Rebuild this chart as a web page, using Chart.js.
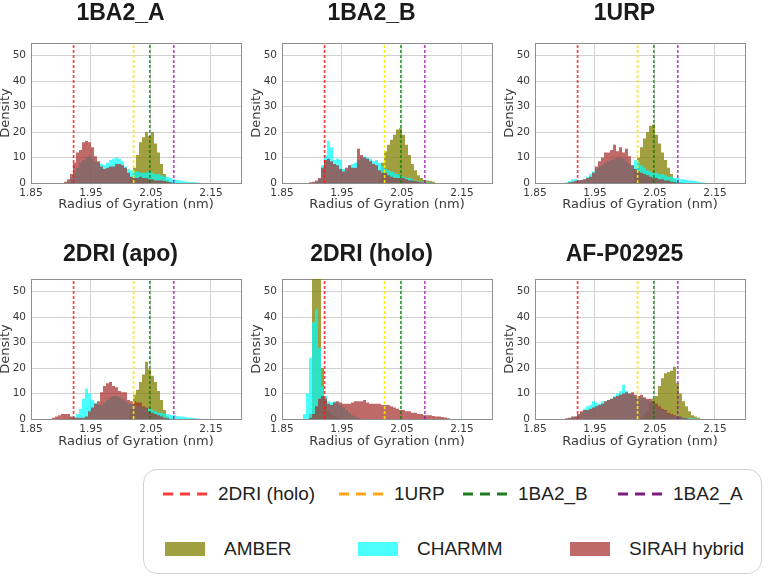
<!DOCTYPE html>
<html>
<head>
<meta charset="utf-8">
<script src="https://cdn.jsdelivr.net/npm/chart.js@4.4.3/dist/chart.umd.min.js"></script>
<style>
  html, body { margin: 0; padding: 0; background: #fff; }
  body { position: relative; width: 768px; height: 576px; overflow: hidden; }
  canvas { position: absolute; }
  .legend {
    position: absolute; left: 143px; top: 469px; width: 619px; height: 105px;
    box-sizing: border-box; border: 1.5px solid #d2d2d2; border-radius: 14px;
    font: 19px 'Liberation Sans', Arial, sans-serif; color: #222;
  }
  .item { position: absolute; display: flex; align-items: center; height: 24px; white-space: nowrap; }
  .item svg { margin-right: 11px; }
  .patch { width: 40px; height: 14px; margin-right: 19px; }
</style>
</head>
<body>
<div class="legend" id="legend"></div>
<script>
// bin edges of the Rg histograms (nm), 0.005 nm wide
const binEdges = [1.885, 1.890, 1.895, 1.900, 1.905, 1.910, 1.915, 1.920, 1.925, 1.930,
  1.935, 1.940, 1.945, 1.950, 1.955, 1.960, 1.965, 1.970, 1.975, 1.980,
  1.985, 1.990, 1.995, 2.000, 2.005, 2.010, 2.015, 2.020, 2.025, 2.030,
  2.035, 2.040, 2.045, 2.050, 2.055, 2.060, 2.065, 2.070, 2.075, 2.080,
  2.085, 2.090, 2.095, 2.100, 2.105, 2.110, 2.115, 2.120, 2.125, 2.130,
  2.135, 2.140];
const xTickValues = [1.85, 1.95, 2.05, 2.15];

const panelTitles = ['1BA2_A', '1BA2_B', '1URP', '2DRI (apo)', '2DRI (holo)', 'AF-P02925'];

// reference structures (dashed lines)
const refNames = ['2DRI (holo)', '1URP', '1BA2_B', '1BA2_A'];
const refRg = [1.921, 2.021, 2.048, 2.088];

// density per bin, one array per force field and system
const amber_1BA2_A = [0,0,0,0,0, 0,0,0,0,0, 0,0,0,0,0, 0,0,0,0,0, 0,0,0,0,0, 0,.5,2,6,11, 16,18,20,18.5,20, 15.5,12,7.5,3.5,1.3, .5,0,0,0,0, 0,0,0,0,0, 0];
const charmm_1BA2_A = [0,0,0,0,0, 0,.5,2,4,6, 8,9,10,10.5,9.5, 8.5,8,7.5,7,8, 9,9.5,10,9.5,8.5, 6.5,5.5,5,4.5,4.5, 4,4,4,4.5,4, 3.5,3.5,3,2.5,2.5, 2,1.5,1.2,1,.8, .6,.5,.4,.3,.2, 0];
const sirah_1BA2_A = [0,0,0,0,0, .5,1.5,3.5,8,12, 13,16,16.5,16,14, 10.5,8.5,6.5,5.5,6, 6.5,6.5,7.5,7.5,7, 6,4,2.5,2,2, 2.5,2,2,1.5,1.5, 1,1,1,.8,.5, .3,0,0,0,0, 0,0,0,0,0, 0];

const amber_1BA2_B = [0,0,0,0,0, 0,0,0,0,0, 0,0,0,0,0, 0,0,0,0,0, 0,0,0,0,0, 0,1,8,12.5,15, 17,19,21,21.5,19, 15,11,7.5,5,3, 2,1.2,1,.8,.5, 0,0,0,0,0, 0];
const charmm_1BA2_B = [0,0,0,0,0, .5,1.5,7,11,16.5, 14,9,9.5,9,5.5, 5,7,7.5,8,9, 10,10.5,10,9.5,8.5, 9,8,6.5,5.5,5, 4.5,4,3.5,3,2.5, 2,2,1.5,1,.8, .5,.3,.2,.1,0, 0,0,0,0,0, 0];
const sirah_1BA2_B = [0,0,0,.3,.5, 1,2,6,9,9.5, 8.5,7.5,7,5.5,4.5, 6,7,6,6,13.5, 11,10,9.5,8.5,7.5, 7,5,4,4,3, 2.5,2,2,2,2, 1.5,1,1,.8,.5, .3,0,0,0,0, 0,0,0,0,0, 0];

const amber_1URP = [0,0,0,0,0, 0,0,0,0,0, 0,0,0,0,0, 0,0,0,0,0, 0,0,0,0,0, 0,.5,5,10,14, 17.5,20,22.5,23,19, 15.5,12,9,6,3.5, 1.5,.8,.3,0,0, 0,0,0,0,0, 0];
const charmm_1URP = [0,0,0,0,.3, .8,1.5,1.5,1.2,1.2, 1.5,2.5,3.5,4.5,5.5, 6.5,7,8,8.5,9, 9.5,10,10,9.5,8.5, 7.5,7,9,8.5,7, 6,5,4.5,4,4, 3.5,3.5,3,2.5,2.5, 2,2,1.5,1.5,1.2, 1,1,.8,.5,.3, .2];
const sirah_1URP = [0,0,0,0,0, .3,.5,.8,1,1.2, 1.5,2,2.5,4,6.5, 8.5,10,12,12,13, 15,12.5,14,12,13.5, 10.5,7,5.5,4.5,4, 3.5,3,2.5,2,2, 1.5,1.5,1,1,.5, .3,0,0,0,0, 0,0,0,0,0, 0];

const amber_2DRI_apo = [0,0,0,0,0, 0,0,0,0,0, 0,0,0,0,0, 0,0,0,0,0, 0,0,0,0,0, 0,.5,4,9.5,11.5, 14.5,17.5,22.5,19.5,17, 14.5,11,7.5,3.5,1, .3,0,0,0,0, 0,0,0,0,0, 0];
const charmm_2DRI_apo = [0,0,0,0,0, 0,.3,.5,1,2, 4,8,12,10,7.5, 6.5,5.5,5.5,6.5,7.5, 8.5,9,9,8.5,8, 7,6,6,5.5,5, 5,4.5,4,4,3.5, 3,2.5,2.5,2,2, 1.5,1.5,1.2,1,1, .8,.6,.5,.3,.2, 0];
const sirah_2DRI_apo = [0,.5,1,1.5,2, 2,2,1,.5,.5, .5,.5,1,3,4.5, 6,7,10.5,13,14, 14.5,13,12.5,11,10.5, 10.5,7.5,7,7,6.5, 6.5,5,4.5,3,2.5, 2,1.5,1,.5,.3, 0,0,0,0,0, 0,0,0,0,0, 0];

const amber_2DRI_holo = [0,0,0,2,56, 60,58,20,8,3, 1.5,1,.5,0,0, 0,0,0,0,0, 0,0,0,0,0, 0,0,0,0,0, 0,0,0,0,0, 0,0,0,0,0, 0,0,0,0,0, 0,0,0,0,0, 0];
const charmm_2DRI_holo = [0,2,10,24,38, 43,28,13,9,7, 6.5,7,6.5,5.5,4.5, 3.5,2.5,1.5,1,.5, 0,0,0,0,0, 0,0,0,0,0, 0,0,0,0,0, 0,0,0,0,0, 0,0,0,0,0, 0,0,0,0,0, 0];
const sirah_2DRI_holo = [0,0,0,.5,2, 5,8,9,8,6, 5.5,6.5,7,6.5,6, 6,6,6.5,7,7, 7,7.5,6.5,6,6, 6,6,5.5,5.5,5.5, 5,4.5,4,3.5,3.5, 3,3,2.5,2.5,2, 2,1.5,1.5,1.5,1.2, 1,1,.8,.6,.3, 0];

const amber_AF_P02925 = [0,0,0,0,0, 0,0,0,0,0, 0,0,0,0,0, 0,0,0,0,0, 0,0,0,0,0, 0,0,0,0,.5, 1.5,3,6.5,8,9, 13,16,18,18.5,19, 20.5,14,10,7,5, 3,1.5,1,.5,0, 0];
const charmm_AF_P02925 = [0,0,0,0,0, .3,.5,1,1.5,2.5, 4,5,5.5,7,6.5, 6,7,7,7.5,8, 9,10,11,13.5,11, 10,9.5,9,9,8.5, 8,7.5,7,6,5, 4,3.5,3,2,1.5, 1.2,1,.8,.5,.5, .3,.3,.2,0,0, 0];
const sirah_AF_P02925 = [0,0,0,0,.3, .5,1,1,2,3, 3.5,3.5,4,4.5,5, 5.5,6,7,7.5,8, 8.5,9,9.5,10,10.5, 10,10.5,9.5,9,9.5, 8.5,8,8,7,6, 5,4,3.5,2.5,2, 1.5,1,1,.5,.3, 0,0,0,0,0, 0];

const seriesNames = ['AMBER', 'CHARMM', 'SIRAH hybrid'];
const amberSets = [amber_1BA2_A, amber_1BA2_B, amber_1URP, amber_2DRI_apo, amber_2DRI_holo, amber_AF_P02925];
const charmmSets = [charmm_1BA2_A, charmm_1BA2_B, charmm_1URP, charmm_2DRI_apo, charmm_2DRI_holo, charmm_AF_P02925];
const sirahSets = [sirah_1BA2_A, sirah_1BA2_B, sirah_1URP, sirah_2DRI_apo, sirah_2DRI_holo, sirah_AF_P02925];

// styling
const seriesColors = ['rgba(128,128,0,0.75)', 'rgba(0,255,255,0.7)', 'rgba(165,42,42,0.7)'];
const refLineColors = ['rgba(255,20,20,0.8)', 'rgba(255,235,0,0.9)', 'rgba(0,130,0,0.75)', 'rgba(150,0,170,0.7)'];
const refLegendColors = ['#ff3a3a', '#ffa51a', '#1e7d1e', '#7d1e7d'];

Chart.defaults.font.family = "'DejaVu Sans', sans-serif";
Chart.defaults.color = '#333';

const colLeft = [0, 251, 504];
const rowTop = [0, 240];
const rowLayout = [
  { titleTop: 0, titleBottom: 15.4, xAxisH: 47, tickPad: 4, xTitlePad: 17.2 },
  { titleTop: 1.2, titleBottom: 10.2, xAxisH: 51, tickPad: 3.5, xTitlePad: 20.2 },
];

function histDataset(label, values, color) {
  const pts = values.map((v, i) => ({ x: binEdges[i], y: v }));
  pts.push({ x: binEdges[values.length], y: 0 });
  return {
    label, data: pts, stepped: 'after', fill: 'origin',
    backgroundColor: color, borderColor: 'rgba(0,0,0,0)', borderWidth: 0, pointRadius: 0,
    xAxisID: 'x', yAxisID: 'y',
  };
}

function refDataset(i) {
  return {
    label: refNames[i],
    data: [{ x: refRg[i], y: 0 }, { x: refRg[i], y: 55 }],
    borderColor: refLineColors[i], borderWidth: 1.7, borderDash: [3, 2],
    pointRadius: 0, fill: false, xAxisID: 'x', yAxisID: 'y',
  };
}

function makePanel(p) {
  const row = Math.floor(p / 3), col = p % 3;
  const L = rowLayout[row];
  const canvas = document.createElement('canvas');
  canvas.width = 250;
  canvas.height = 230;
  canvas.style.left = colLeft[col] + 'px';
  canvas.style.top = rowTop[row] + 'px';
  document.body.appendChild(canvas);

  const frame = { color: '#8e8e8e', width: 1 };
  new Chart(canvas, {
    type: 'line',
    data: {
      datasets: [
        refDataset(0), refDataset(1), refDataset(2), refDataset(3),
        histDataset(seriesNames[2], sirahSets[p], seriesColors[2]),
        histDataset(seriesNames[1], charmmSets[p], seriesColors[1]),
        histDataset(seriesNames[0], amberSets[p], seriesColors[0]),
      ],
    },
    options: {
      responsive: false,
      animation: false,
      layout: { padding: { left: 0, right: 9, top: 0, bottom: 0 } },
      plugins: {
        legend: { display: false },
        tooltip: { enabled: false },
        title: {
          display: true, text: panelTitles[p], color: '#1a1a1a',
          font: { family: "'Liberation Sans', Arial, sans-serif", size: 23, weight: 'bold' },
          padding: { top: L.titleTop, bottom: L.titleBottom },
        },
      },
      scales: {
        x: {
          type: 'linear', min: 1.85, max: 2.2,
          afterBuildTicks: (s) => { s.ticks = xTickValues.map((v) => ({ value: v })); },
          afterFit: (s) => { s.height = L.xAxisH; },
          ticks: { padding: L.tickPad, font: { size: 10.5 }, color: '#3a3a3a', maxRotation: 0, autoSkip: false,
                   callback: (v) => v.toFixed(2) },
          grid: { color: '#d2d2d2', drawTicks: false },
          border: frame,
          title: { display: true, text: 'Radius of Gyration (nm)', font: { size: 13 }, color: '#3a3a3a',
                   padding: { top: 0, bottom: L.xTitlePad } },
        },
        y: {
          min: 0, max: 55,
          afterFit: (s) => { s.width = 31; },
          ticks: { stepSize: 10, includeBounds: false, padding: 5, font: { size: 10.5 }, color: '#3a3a3a' },
          grid: { color: '#d2d2d2', drawTicks: false },
          border: frame,
          title: { display: true, text: 'Density', font: { size: 13 }, color: '#3a3a3a', padding: { top: -2, bottom: 0 } },
        },
        xTop: {
          type: 'linear', axis: 'x', position: 'top',
          ticks: { display: false }, grid: { display: false, drawTicks: false }, border: frame,
          afterFit: (s) => { s.height = 0; },
        },
        yRight: {
          type: 'linear', axis: 'y', position: 'right',
          ticks: { display: false }, grid: { display: false, drawTicks: false }, border: frame,
          afterFit: (s) => { s.width = 0; },
        },
      },
    },
  });
}

for (let p = 0; p < panelTitles.length; p++) makePanel(p);

// shared legend box
const legend = document.getElementById('legend');
const refLeft = [19, 195, 319, 474];
refNames.forEach((name, i) => {
  const el = document.createElement('div');
  el.className = 'item';
  el.style.left = refLeft[i] + 'px';
  el.style.top = '12px';
  el.innerHTML = `<svg width="44" height="6"><line x1="0" y1="3" x2="44" y2="3" stroke="${refLegendColors[i]}" stroke-width="3" stroke-dasharray="10 7"/></svg><span>${name}</span>`;
  legend.appendChild(el);
});
const patchLeft = [21, 214, 426];
seriesNames.forEach((name, i) => {
  const el = document.createElement('div');
  el.className = 'item';
  el.style.left = patchLeft[i] + 'px';
  el.style.top = '67px';
  el.innerHTML = `<div class="patch" style="background:${seriesColors[i]}"></div><span>${name}</span>`;
  legend.appendChild(el);
});
</script>
</body>
</html>
